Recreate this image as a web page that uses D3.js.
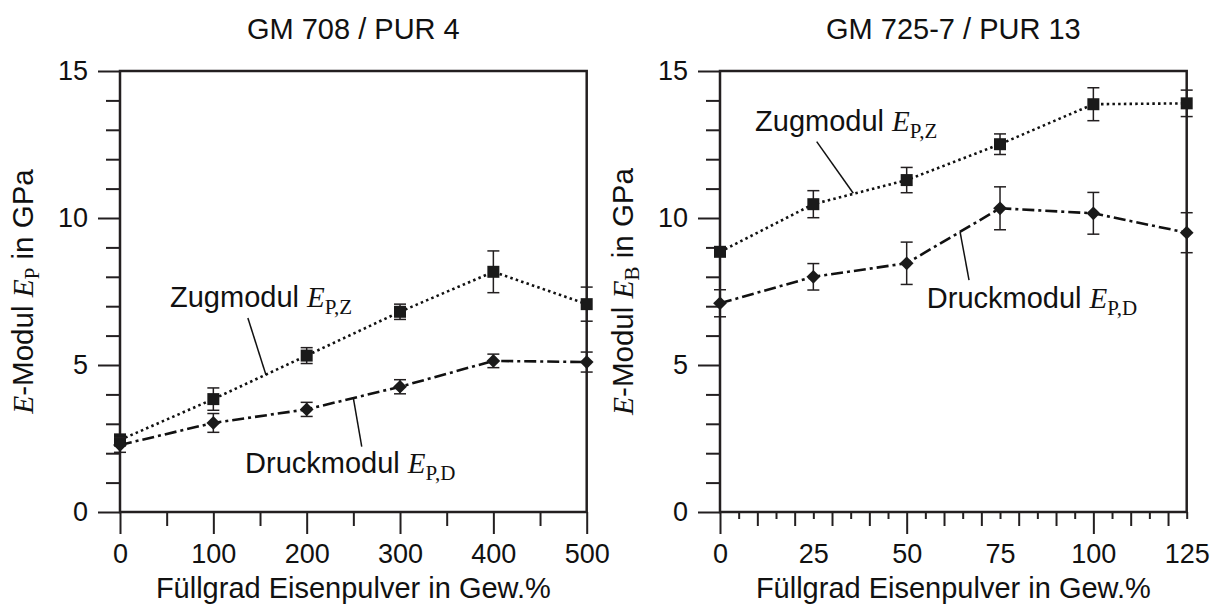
<!DOCTYPE html>
<html>
<head>
<meta charset="utf-8">
<script src="https://cdn.jsdelivr.net/npm/d3@7"></script>
<style>
  body { margin: 0; background: #fff; }
  text { font-family: "Liberation Sans", Arial, sans-serif; fill: #111; }
  .serif { font-family: "Liberation Serif", "Times New Roman", serif; }
</style>
</head>
<body>
<div id="chart"></div>
<script>
// ---- data ----
const fillLeft = [0, 100, 200, 300, 400, 500];
const zugLeft = [2.45, 3.84, 5.32, 6.81, 8.17, 7.07];
const zugLeftErr = [0.2, 0.38, 0.27, 0.26, 0.71, 0.58];
const druckLeft = [2.28, 3.03, 3.49, 4.26, 5.14, 5.10];
const druckLeftErr = [0.25, 0.32, 0.24, 0.24, 0.23, 0.34];

const fillRight = [0, 25, 50, 75, 100, 125];
const zugRight = [8.85, 10.47, 11.29, 12.51, 13.87, 13.9];
const zugRightErr = [0.1, 0.46, 0.43, 0.35, 0.56, 0.45];
const druckRight = [7.1, 8.0, 8.46, 10.33, 10.16, 9.5];
const druckRightErr = [0.46, 0.45, 0.72, 0.73, 0.71, 0.68];

const yTicks = [0, 5, 10, 15];
const leftXTicks = [0, 100, 200, 300, 400, 500];
const rightXTicks = [0, 25, 50, 75, 100, 125];

const titles = ["GM 708 / PUR 4", "GM 725-7 / PUR 13"];
const xTitle = "Füllgrad Eisenpulver in Gew.%";

const width = 1220,
    height = 610;

const svg = d3.select("#chart").append("svg")
    .attr("width", width)
    .attr("height", height);

const ink = "#231f20";

function drawPanel(opt) {
    const x = d3.scaleLinear().domain(opt.xDomain).range([opt.left, opt.right]);
    const y = d3.scaleLinear().domain([0, 15]).range([512, 71]);
    const g = svg.append("g");

    // y axis ticks: minor every 1, major every 5
    const yMinor = d3.range(0, 16).filter(v => v % 5 !== 0);
    g.append("g")
        .attr("transform", "translate(" + opt.left + ",0)")
        .call(d3.axisLeft(y).tickValues(yMinor).tickSize(14).tickFormat(""))
        .call(a => a.select(".domain").remove());
    g.append("g")
        .attr("class", "ytick")
        .attr("transform", "translate(" + opt.left + ",0)")
        .call(d3.axisLeft(y).tickValues(yTicks).tickSize(22).tickPadding(10))
        .call(a => a.select(".domain").remove());

    // x axis ticks
    opt.xTickGroups.forEach(t => {
        g.append("g")
            .attr("transform", "translate(0,512)")
            .call(d3.axisBottom(x).tickValues(t.values).tickSize(t.size).tickFormat(""))
            .call(a => a.select(".domain").remove());
    });
    g.append("g")
        .attr("class", "xtick")
        .attr("transform", "translate(0,512)")
        .call(d3.axisBottom(x).tickValues(opt.xLabels).tickSize(0).tickPadding(32).tickFormat(d3.format("d")))
        .call(a => a.select(".domain").remove());

    g.selectAll(".tick line").attr("stroke", ink).attr("stroke-width", 2);
    g.selectAll(".ytick text, .xtick text")
        .style("font-size", "27px")
        .attr("fill", "#111");

    // frame
    g.append("rect")
        .attr("x", opt.left)
        .attr("y", y(15))
        .attr("width", opt.right - opt.left)
        .attr("height", y(0) - y(15))
        .attr("fill", "none")
        .attr("stroke", ink)
        .attr("stroke-width", 2.5);

    // title
    g.append("text")
        .attr("x", (opt.left + opt.right) / 2)
        .attr("y", 39)
        .attr("text-anchor", "middle")
        .style("font-size", "29px")
        .text(opt.title);

    // x title
    g.append("text")
        .attr("x", (opt.left + opt.right) / 2)
        .attr("y", 598)
        .attr("text-anchor", "middle")
        .style("font-size", "29px")
        .text(xTitle);

    // y title
    const yt = g.append("text")
        .attr("transform", "translate(" + (opt.left - 87) + "," + (y(7.5)) + ") rotate(-90)")
        .attr("text-anchor", "middle")
        .style("font-size", "29.5px");
    yt.append("tspan").attr("class", "serif").style("font-style", "italic").text("E");
    yt.append("tspan").text("-Modul ");
    yt.append("tspan").attr("class", "serif").style("font-style", "italic").text("E");
    yt.append("tspan").attr("class", "serif").attr("dy", 6).style("font-size", "21px").text(opt.ySub);
    yt.append("tspan").attr("dy", -6).text(" in GPa");

    // series
    const series = [
        { vals: opt.zug, err: opt.zugErr, dash: "2.5,3.2", marker: "square" },
        { vals: opt.druck, err: opt.druckErr, dash: "12,4,3,4", marker: "diamond" }
    ];
    series.forEach(s => {
        const pts = opt.xs.map((d, i) => ({ x: d, y: s.vals[i], e: s.err[i] }));
        g.append("path")
            .datum(pts)
            .attr("fill", "none")
            .attr("stroke", "#111")
            .attr("stroke-width", 2.6)
            .attr("stroke-dasharray", s.dash)
            .attr("d", d3.line().x(d => x(d.x)).y(d => y(d.y)));

        const eb = g.append("g").selectAll("g").data(pts).enter().append("g");
        eb.append("line")
            .attr("x1", d => x(d.x)).attr("x2", d => x(d.x))
            .attr("y1", d => y(d.y - d.e)).attr("y2", d => y(d.y + d.e))
            .attr("stroke", ink).attr("stroke-width", 1.5);
        [-1, 1].forEach(sgn => {
            eb.append("line")
                .attr("x1", d => x(d.x) - 6).attr("x2", d => x(d.x) + 6)
                .attr("y1", d => y(d.y + sgn * d.e)).attr("y2", d => y(d.y + sgn * d.e))
                .attr("stroke", ink).attr("stroke-width", 1.5);
        });

        const sym = s.marker === "square"
            ? d3.symbol().type(d3.symbolSquare).size(144)
            : d3.symbol().type(d3.symbolDiamond2).size(120);
        g.append("g").selectAll("path").data(pts).enter().append("path")
            .attr("transform", d => "translate(" + x(d.x) + "," + y(d.y) + ")")
            .attr("d", sym)
            .attr("fill", "#1a1a1a");
    });

    // annotations with leader lines (data coordinates)
    opt.notes.forEach(n => {
        g.append("line")
            .attr("x1", x(n.from[0])).attr("y1", y(n.from[1]))
            .attr("x2", x(n.to[0])).attr("y2", y(n.to[1]))
            .attr("stroke", "#111").attr("stroke-width", 1.5);
        const t = g.append("text")
            .attr("x", x(n.at[0]))
            .attr("y", y(n.at[1]))
            .style("font-size", "29px");
        t.append("tspan").text(n.label + " ");
        t.append("tspan").attr("class", "serif").style("font-style", "italic").text("E");
        t.append("tspan").attr("class", "serif").attr("dy", 7).style("font-size", "21px").text(n.sub);
    });
}

drawPanel({
    left: 120, right: 586.7,
    xDomain: [0, 500],
    xs: fillLeft,
    xLabels: leftXTicks,
    xTickGroups: [
        { values: [50, 150, 250, 350, 450], size: 14 },
        { values: leftXTicks, size: 22 }
    ],
    title: titles[0],
    ySub: "P",
    zug: zugLeft, zugErr: zugLeftErr,
    druck: druckLeft, druckErr: druckLeftErr,
    notes: [
        { label: "Zugmodul", sub: "P,Z", at: [53.6, 6.98], from: [137, 6.6], to: [156.4, 4.66] },
        { label: "Druckmodul", sub: "P,D", at: [134, 1.33], from: [259, 2.22], to: [250, 3.87] }
    ]
});

drawPanel({
    left: 720, right: 1186.7,
    xDomain: [0, 125],
    xs: fillRight,
    xLabels: rightXTicks,
    xTickGroups: [
        { values: d3.range(5, 126, 10), size: 7 },
        { values: [10, 20, 30, 40, 60, 70, 80, 90, 110, 120], size: 14 },
        { values: [0, 50, 100], size: 22 }
    ],
    title: titles[1],
    ySub: "B",
    zug: zugRight, zugErr: zugRightErr,
    druck: druckRight, druckErr: druckRightErr,
    notes: [
        { label: "Zugmodul", sub: "P,Z", at: [9.4, 12.96], from: [25.9, 12.6], to: [35.7, 10.84] },
        { label: "Druckmodul", sub: "P,D", at: [55.4, 6.94], from: [66.7, 7.89], to: [64.3, 9.53] }
    ]
});
</script>
</body>
</html>
